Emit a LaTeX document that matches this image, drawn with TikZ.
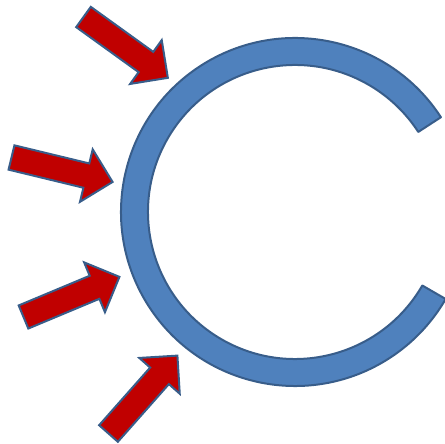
\documentclass[tikz,border=0pt]{standalone}
\usepackage{tikz}
\usetikzlibrary{calc}
\definecolor{ringBlue}{RGB}{79, 129, 189}
\definecolor{edgeBlue}{RGB}{56, 93, 138}
\definecolor{arrowRed}{RGB}{192, 0, 0}

\tikzset{
  pushArrow/.pic={
    % shaft then head, tail centre at the origin, pointing along +x
    \draw[arrowShape] (0,-12.5) -- (77,-12.5) -- (77,-27) -- (104,0)
      -- (77,27) -- (77,12.5) -- (0,12.5) -- cycle;
  }
}

\begin{document}
\begin{tikzpicture}[x=1pt, y=1pt,
    ringShape/.style={fill=ringBlue, draw=edgeBlue, line width=2pt, line join=round},
    arrowShape/.style={fill=arrowRed, draw=edgeBlue, line width=2pt, line join=miter}]
  \useasboundingbox (0,0) rectangle (444,444);

  % open ring, gap on the right
  \coordinate (ringC) at (295,232);
  \draw[ringShape] ($(ringC)+(33:174pt)$) arc[start angle=33, end angle=330, radius=174pt]
    -- ($(ringC)+(330:147pt)$) arc[start angle=330, end angle=33, radius=147pt] -- cycle;

  % four arrows pushing on the ring
  \pic[rotate=-35.8] at (83.5,427) {pushArrow};
  \pic[rotate=-13.6] at (11.5,286.5) {pushArrow};
  \pic[rotate=22.7] at (23.5,127) {pushArrow};
  \pic[rotate=48.5] at (108.5,10.5) {pushArrow};
\end{tikzpicture}
\end{document}
